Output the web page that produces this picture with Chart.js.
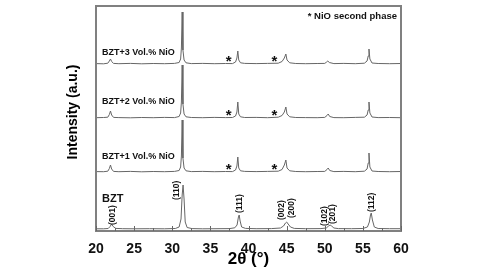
<!DOCTYPE html>
<html>
<head>
<meta charset="utf-8">
<script src="https://cdn.jsdelivr.net/npm/chart.js@4.4.1/dist/chart.umd.min.js"></script>
<style>
  html, body { margin: 0; padding: 0; background: #fff; }
  canvas { display: block; }
</style>
</head>
<body>
<canvas id="xrd" width="478" height="268"></canvas>
<script>
// XRD patterns, [2theta, intensity above own baseline]
const bzt = [[20,0.2],[21,0.2],[21.6,0.5],[21.85,2.5],[22.05,5],[22.25,2.5],[22.6,0.6],[23.5,0.3],[25,0.2],[27,0.3],[29,0.2],[30.4,0.5],[30.9,2],[31.15,10],[31.3,34],[31.42,44],[31.55,30],[31.7,7],[31.95,1.5],[32.6,0.4],[34,0.2],[36,0.3],[37.5,0.4],[38.2,1.2],[38.5,4],[38.68,12],[38.78,14],[38.9,8],[39.1,2],[39.6,0.6],[41,0.3],[43,0.4],[44.2,1],[44.6,3],[44.85,6],[45.0,7],[45.2,5],[45.5,2],[46,0.6],[47.5,0.3],[49.5,0.4],[50.2,1],[50.5,3],[50.7,4],[50.9,3],[51.2,1],[51.8,0.4],[53.5,0.3],[55,0.5],[55.6,2],[55.85,7],[56.0,14],[56.1,16],[56.25,9],[56.5,2],[57,0.5],[58.5,0.3],[60,0.3]];

const bzt1 = [[20,0.4],[21,0.3],[21.55,0.8],[21.75,3.5],[21.9,7],[22.05,3],[22.3,0.6],[23,0.3],[24.5,0.6],[26,0.2],[27.5,0.5],[29,0.3],[30.3,0.6],[30.9,1.5],[31.1,5],[31.2,16],[31.3,52],[31.4,14],[31.55,4],[31.8,1.2],[32.5,0.4],[34,0.6],[35.5,0.3],[37,0.5],[37.9,0.4],[38.3,2],[38.48,6],[38.6,15],[38.72,4],[38.95,1.2],[39.5,0.6],[41,0.4],[42.5,0.6],[43.9,0.8],[44.4,2.5],[44.7,7],[44.9,12],[45.05,4],[45.4,1.2],[46.2,0.5],[47.5,0.3],[49,0.5],[50.0,0.6],[50.3,2.5],[50.45,4],[50.65,1.5],[51.2,0.4],[52.5,0.6],[54,0.3],[55.2,0.8],[55.55,3],[55.7,9],[55.8,19],[55.92,5],[56.2,1],[57,0.5],[58.5,0.3],[60,0.5]];

const bzt2 = [[20,0.3],[21,0.5],[21.55,0.8],[21.75,3.5],[21.9,7],[22.05,3],[22.3,0.6],[23,0.4],[24.5,0.2],[26,0.5],[27.5,0.3],[29,0.6],[30.3,0.4],[30.9,1.5],[31.1,5],[31.2,16],[31.3,53],[31.4,14],[31.55,4],[31.8,1.2],[32.5,0.5],[34,0.3],[35.5,0.6],[37,0.4],[37.9,0.5],[38.3,2],[38.48,6],[38.6,16],[38.72,4],[38.95,1.2],[39.5,0.5],[41,0.6],[42.5,0.3],[43.9,0.8],[44.4,2.5],[44.7,6],[44.9,11],[45.05,4],[45.4,1.2],[46.2,0.5],[47.5,0.4],[49,0.3],[50.0,0.6],[50.3,2.5],[50.45,4],[50.65,1.5],[51.2,0.4],[52.5,0.3],[54,0.6],[55.2,0.8],[55.55,3],[55.7,8],[55.8,16],[55.92,5],[56.2,1],[57,0.4],[58.5,0.5],[60,0.3]];

const bzt3 = [[20,0.4],[21,0.2],[21.55,0.8],[21.75,3],[21.9,5],[22.05,2.5],[22.3,0.6],[23,0.3],[24.5,0.6],[26,0.2],[27.5,0.5],[29,0.3],[30.3,0.6],[30.9,1.5],[31.1,5],[31.2,16],[31.3,52],[31.4,14],[31.55,4],[31.8,1.2],[32.5,0.4],[34,0.6],[35.5,0.3],[37,0.5],[37.9,0.4],[38.3,2],[38.48,6],[38.6,13],[38.72,4],[38.95,1.2],[39.5,0.6],[41,0.4],[42.5,0.6],[43.9,0.8],[44.4,2.5],[44.7,6],[44.9,10],[45.05,4],[45.4,1.2],[46.2,0.5],[47.5,0.3],[49,0.5],[50.0,0.6],[50.25,2],[50.4,3],[50.6,1.5],[51.2,0.4],[52.5,0.6],[54,0.3],[55.2,0.8],[55.55,3],[55.7,8],[55.8,15],[55.92,5],[56.2,1],[57,0.5],[58.5,0.3],[60,0.5]];

const seriesNames = ["BZT", "BZT+1 Vol.% NiO", "BZT+2 Vol.% NiO", "BZT+3 Vol.% NiO"];
const offsets = [2, 59, 113, 167];   // stacking offset of each pattern
const xTicks = [20, 25, 30, 35, 40, 45, 50, 55, 60];

// NiO reflections marked with *
const nioTheta = [37.4, 43.4];

// Miller indices of BZT peaks
const hkl = ["(001)", "(110)", "(111)", "(002)", "(200)", "(102)", "(201)", "(112)"];
const hklTheta = [22.2, 30.6, 38.9, 44.4, 45.7, 50.0, 51.1, 56.2];
const hklBase = [6, 31, 18, 11, 13, 5, 7, 19];   // where the rotated text starts (y units)

const FONT = "'Liberation Sans', Arial, sans-serif";
const datasets = [bzt, bzt1, bzt2, bzt3].map((s, i) => ({
  label: seriesNames[i],
  data: s.map(p => ({ x: p[0], y: p[1] + offsets[i] })),
  borderColor: "#666",
  borderWidth: 1,
  pointRadius: 0,
  tension: 0,
  fill: false
}));

const decor = {
  id: "decor",
  afterDraw(chart) {
    const { ctx, chartArea: a, scales: { x, y } } = chart;
    ctx.save();

    // frame
    ctx.strokeStyle = "#808080";
    ctx.lineWidth = 2;
    ctx.strokeRect(a.left, a.top, a.right - a.left, a.bottom - a.top);

    // inward ticks on the bottom axis
    ctx.lineWidth = 1;
    ctx.strokeStyle = "#666";
    for (let v = 20; v <= 60; v += 2.5) {
      const px = Math.round(x.getPixelForValue(v)) + 0.5;
      const len = v % 5 === 0 ? 5 : 3;
      ctx.beginPath();
      ctx.moveTo(px, a.bottom);
      ctx.lineTo(px, a.bottom - len);
      ctx.stroke();
    }

    ctx.fillStyle = "#111";

    // series labels
    ctx.textAlign = "left";
    ctx.textBaseline = "middle";
    const labelLift = [30, 15, 16, 11];
    seriesNames.forEach((n, i) => {
      ctx.font = (i === 0 ? "bold 11px " : "bold 9px ") + FONT;
      ctx.fillText(n, x.getPixelForValue(20.8), y.getPixelForValue(offsets[i]) - labelLift[i]);
    });

    // NiO stars
    ctx.font = "bold 15px " + FONT;
    ctx.textAlign = "center";
    ctx.textBaseline = "alphabetic";
    const m = ctx.measureText("*");
    const shift = (m.actualBoundingBoxAscent - m.actualBoundingBoxDescent) / 2;
    for (let i = 1; i < offsets.length; i++) {
      nioTheta.forEach(t => {
        ctx.fillText("*", x.getPixelForValue(t), y.getPixelForValue(offsets[i]) - 5 + shift);
      });
    }

    // legend note
    ctx.font = "bold 9.5px " + FONT;
    ctx.textAlign = "right";
    ctx.textBaseline = "middle";
    ctx.fillText("* NiO second phase", a.right - 4, a.top + 10);

    // hkl labels, rotated
    ctx.font = "bold 8.5px " + FONT;
    ctx.textAlign = "left";
    ctx.textBaseline = "middle";
    hkl.forEach((t, i) => {
      ctx.save();
      ctx.translate(x.getPixelForValue(hklTheta[i]), y.getPixelForValue(hklBase[i]));
      ctx.rotate(-Math.PI / 2);
      ctx.fillText(t, 0, 0);
      ctx.restore();
    });

    // axis titles
    ctx.fillStyle = "#000";
    ctx.font = "bold 17px " + FONT;
    ctx.textAlign = "center";
    ctx.fillText("2\u03B8 (\u00B0)", (a.left + a.right) / 2, 259);

    ctx.save();
    ctx.translate(73, 112);
    ctx.rotate(-Math.PI / 2);
    ctx.font = "bold 14px " + FONT;
    ctx.fillText("Intensity (a.u.)", 0, 0);
    ctx.restore();

    ctx.restore();
  }
};

new Chart(document.getElementById("xrd"), {
  type: "line",
  data: { datasets },
  options: {
    responsive: false,
    animation: false,
    devicePixelRatio: 1,
    layout: { padding: { left: 96, right: 77, top: 6, bottom: 0 } },
    plugins: { legend: { display: false }, tooltip: { enabled: false } },
    scales: {
      x: {
        type: "linear",
        min: 20,
        max: 60,
        afterBuildTicks: s => { s.ticks = xTicks.map(v => ({ value: v })); },
        afterFit: s => { s.height = 37; },
        grid: { display: false, drawTicks: false },
        border: { display: false },
        ticks: { color: "#111", padding: 10, font: { family: FONT, size: 14, weight: "bold" } }
      },
      y: {
        display: false,
        min: 0,
        max: 225
      }
    }
  },
  plugins: [decor]
});
</script>
</body>
</html>
